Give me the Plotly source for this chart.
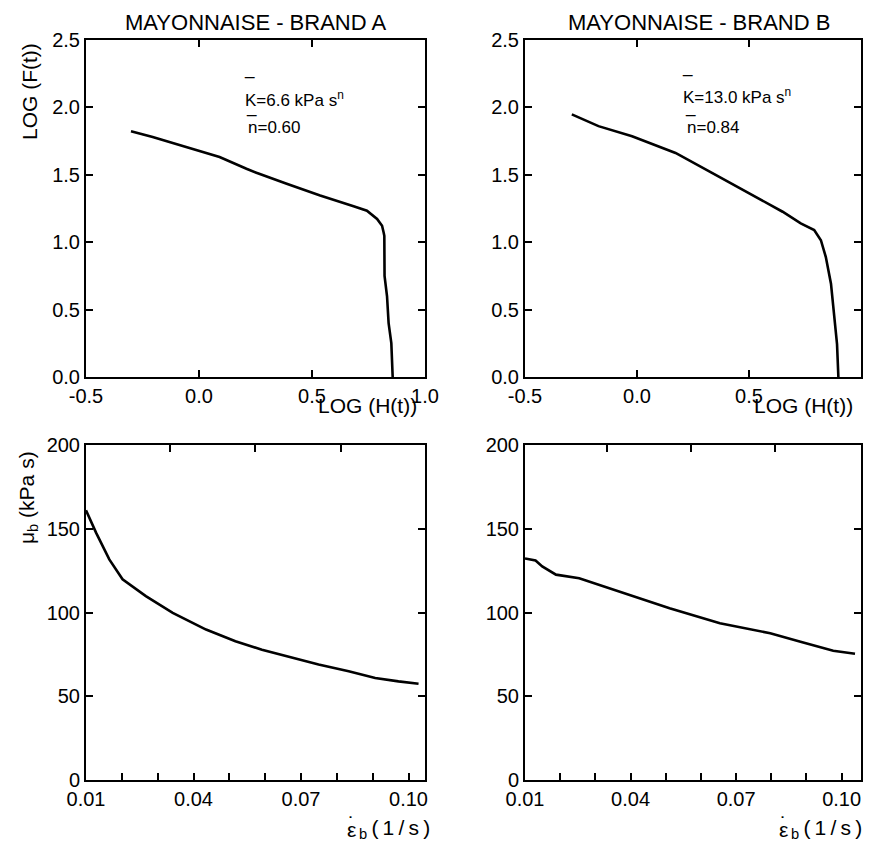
import plotly.graph_objects as go

W, H = 874, 841

# ---- data ----
a_logH = [-0.301, -0.205, -0.057, 0.091, 0.210, 0.254, 0.388, 0.536, 0.684, 0.743, 0.788, 0.810, 0.817, 0.820, 0.821, 0.832, 0.839, 0.851, 0.857]
a_logF = [1.823, 1.781, 1.707, 1.632, 1.545, 1.515, 1.433, 1.346, 1.266, 1.234, 1.172, 1.122, 1.072, 1.047, 0.749, 0.599, 0.40, 0.251, 0.0]

b_logH = [-0.291, -0.172, -0.022, 0.172, 0.351, 0.500, 0.650, 0.731, 0.791, 0.821, 0.843, 0.866, 0.881, 0.893, 0.899]
b_logF = [1.948, 1.861, 1.786, 1.662, 1.500, 1.363, 1.226, 1.139, 1.090, 1.015, 0.890, 0.692, 0.443, 0.244, 0.0]

a_rate = [0.0100, 0.0105, 0.0128, 0.0165, 0.0202, 0.0267, 0.0342, 0.0435, 0.0517, 0.0591, 0.0665, 0.0749, 0.0833, 0.0907, 0.0972, 0.1028]
a_mu = [161.0, 158.7, 147.7, 131.7, 119.8, 109.8, 99.8, 89.8, 82.8, 77.8, 73.5, 68.9, 64.9, 60.9, 58.9, 57.5]

b_rate = [0.0100, 0.0130, 0.0149, 0.0188, 0.0254, 0.0369, 0.0511, 0.0654, 0.0797, 0.0883, 0.0976, 0.1038]
b_mu = [132.3, 131.0, 127.5, 122.6, 120.5, 112.6, 102.6, 93.6, 87.6, 82.6, 77.2, 75.4]

top_xticks = [-0.5, 0.0, 0.5, 1.0]
top_xtext = ["-0.5", "0.0", "0.5", "1.0"]
top_yticks = [0.0, 0.5, 1.0, 1.5, 2.0, 2.5]
top_ytext = ["0.0", "0.5", "1.0", "1.5", "2.0", "2.5"]
bot_xticks = [0.01, 0.02, 0.03, 0.04, 0.05, 0.06, 0.07, 0.08, 0.09, 0.10]
bot_xtext = ["0.01", "", "", "0.04", "", "", "0.07", "", "", "0.10"]
bot_top_ticks = [0.0333, 0.0571, 0.0811]
bot_yticks = [0, 50, 100, 150, 200]
bot_ytext = ["0", "50", "100", "150", "200"]

FONT = "Liberation Sans, Arial, sans-serif"

def px(x):
    return x / W

def py(y):
    return 1 - y / H

fig = go.Figure()
line = dict(color="black", width=2.6)
fig.add_trace(go.Scatter(x=a_logH, y=a_logF, mode="lines", line=line, xaxis="x", yaxis="y"))
fig.add_trace(go.Scatter(x=b_logH, y=b_logF, mode="lines", line=line, xaxis="x2", yaxis="y2"))
fig.add_trace(go.Scatter(x=a_rate, y=a_mu, mode="lines", line=line, xaxis="x3", yaxis="y3"))
fig.add_trace(go.Scatter(x=b_rate, y=b_mu, mode="lines", line=line, xaxis="x4", yaxis="y4"))
# fully transparent helpers so the tick-only top axes of the lower panels get drawn
helper = dict(mode="markers", marker=dict(opacity=0, size=1), hoverinfo="skip")
fig.add_trace(go.Scatter(x=bot_top_ticks, y=[bot_yticks[2]] * 3, xaxis="x5", yaxis="y3", **helper))
fig.add_trace(go.Scatter(x=bot_top_ticks, y=[bot_yticks[2]] * 3, xaxis="x6", yaxis="y4", **helper))

tickfont = dict(family=FONT, size=20, color="black")
common = dict(showgrid=False, zeroline=False, showline=True, linecolor="black", linewidth=2,
              ticks="inside", ticklen=7, tickwidth=2, tickcolor="black", tickfont=tickfont,
              automargin=False, fixedrange=True)

dom_l = [px(86), px(425)]
dom_r = [px(525), px(861)]
dom_t = [py(377), py(40)]
dom_b = [py(780), py(445)]

topax = dict(showticklabels=False, showgrid=False, zeroline=False, showline=False,
             ticks="inside", ticklen=7, tickwidth=2, tickcolor="black", automargin=False, fixedrange=True)

layout = dict(
    template="none",
    width=W, height=H, margin=dict(l=0, r=0, t=0, b=0, pad=0),
    paper_bgcolor="white", plot_bgcolor="rgba(0,0,0,0)", showlegend=False,
    font=dict(family=FONT, color="black"),
    xaxis=dict(domain=dom_l, anchor="y", range=[-0.5, 1.0], tickvals=top_xticks, ticktext=top_xtext, mirror="ticks", **common),
    yaxis=dict(domain=dom_t, anchor="x", range=[0, 2.5], tickvals=top_yticks, ticktext=top_ytext, mirror="ticks", **common),
    xaxis2=dict(domain=dom_r, anchor="y2", range=[-0.5, 1.0], tickvals=top_xticks, ticktext=top_xtext, mirror="ticks", **common),
    yaxis2=dict(domain=dom_t, anchor="x2", range=[0, 2.5], tickvals=top_yticks, ticktext=top_ytext, mirror="ticks", **common),
    xaxis3=dict(domain=dom_l, anchor="y3", range=[0.01, 0.1046], tickvals=bot_xticks, ticktext=bot_xtext, mirror=True, **common),
    yaxis3=dict(domain=dom_b, anchor="x3", range=[0, 200], tickvals=bot_yticks, ticktext=bot_ytext, mirror="ticks", **common),
    xaxis4=dict(domain=dom_r, anchor="y4", range=[0.01, 0.1055], tickvals=bot_xticks, ticktext=bot_xtext, mirror=True, **common),
    yaxis4=dict(domain=dom_b, anchor="x4", range=[0, 200], tickvals=bot_yticks, ticktext=bot_ytext, mirror="ticks", **common),
    xaxis5=dict(domain=dom_l, anchor="y3", side="top", range=[0.01, 0.1046], tickvals=bot_top_ticks, **topax),
    xaxis6=dict(domain=dom_r, anchor="y4", side="top", range=[0.01, 0.1055], tickvals=bot_top_ticks, **topax),
)
fig.update_layout(**layout)

lab = dict(family=FONT, size=22, color="black")
lab2 = dict(family=FONT, size=21, color="black")
small = dict(family=FONT, size=17, color="black")
ann = []
def A(x, y, text, font, xanchor="center", yanchor="middle", angle=0):
    ann.append(dict(x=px(x), y=py(y), xref="paper", yref="paper", text=text, showarrow=False,
                    font=font, xanchor=xanchor, yanchor=yanchor, textangle=angle))

A(256, 22, "MAYONNAISE - BRAND A", lab)
A(699, 22, "MAYONNAISE - BRAND B", lab)
A(30, 92, "LOG (F(t))", lab2, angle=-90)
A(419, 405, "LOG (H(t))", lab2, xanchor="right")
A(855, 405, "LOG (H(t))", lab2, xanchor="right")
A(28, 498, "\u03bc<sub>b</sub> (kPa s)", lab2, angle=-90)
# strain-rate labels: epsilon, its dot, then subscript and unit
TS = "\u2009"
unit = "<sub>b</sub>" + TS + "(" + TS + "1" + TS + "/" + TS + "s" + TS + ")"
for ex in (351, 783):
    A(ex, 829, "\u03b5", lab2)
    A(ex, 823, "\u02d9", lab2)
    A(ex + 6, 829, unit, lab2, xanchor="left")
# fitted parameters with overbars
A(243, 99, "K=6.6 kPa s<sup>n</sup>", small, xanchor="left")
A(249, 70, "_", small)
A(246, 128, "n=0.60", small, xanchor="left")
A(251, 107, "_", small)
A(681, 96, "K=13.0 kPa s<sup>n</sup>", small, xanchor="left")
A(687, 68, "_", small)
A(685, 128, "n=0.84", small, xanchor="left")
A(690, 107, "_", small)
fig.update_layout(annotations=ann)

fig.write_html("out.html", config={"displayModeBar": False, "staticPlot": True},
               post_script="document.body.style.margin='0';document.body.style.overflow='hidden';")
